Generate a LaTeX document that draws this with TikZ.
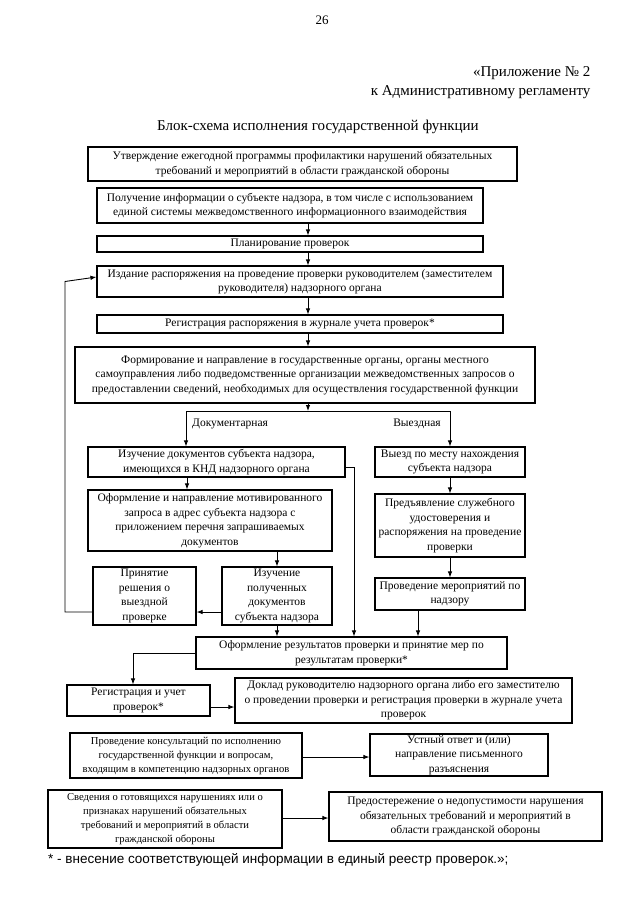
\documentclass[tikz,border=0pt]{standalone}
\usepackage{fontspec}
\setmainfont{Liberation Serif}
\newfontfamily\footfont{Liberation Sans}
\usetikzlibrary{arrows.meta}
\tikzset{
  box/.style={draw=black, line width=1.1pt, align=center, inner sep=1pt,
    font=\fontsize{11.5}{14.5}\selectfont},
  smallbox/.style={box, font=\fontsize{10.6}{14}\selectfont},
  conn/.style={line width=0.9pt, -{Latex[length=6pt,width=4.5pt]}},
  plain/.style={line width=0.9pt},
  lbl/.style={font=\fontsize{11.5}{14}\selectfont, inner sep=0pt},
}
\begin{document}
\begin{tikzpicture}[x=1pt,y=-1pt]
\useasboundingbox (0,0) rectangle (640,905);
% headers
\node[font=\fontsize{13}{15}\selectfont] (pg) at (322,20) {26};
\node[font=\fontsize{15}{18}\selectfont, anchor=east] (app1) at (594,73) {«Приложение №~2};
\node[font=\fontsize{15}{18}\selectfont, anchor=east] (app2) at (594,92) {к Административному регламенту};
\node[font=\fontsize{15}{18}\selectfont] (title) at (318,127) {Блок-схема исполнения государственной функции};

% boxes
\node[box, minimum width=429, minimum height=34] (b1) at (302.5,164) {Утверждение ежегодной программы профилактики нарушений обязательных\\требований и мероприятий в области гражданской обороны};
\node[box, minimum width=386, minimum height=35] (b2) at (290,205.5) {Получение информации о субъекте надзора, в том числе с использованием\\единой системы межведомственного информационного взаимодействия};
\node[box, minimum width=386, minimum height=16] (b3) at (290,244) {Планирование проверок};
\node[box, minimum width=406, minimum height=31] (b4) at (300,281.5) {Издание распоряжения на проведение проверки руководителем (заместителем\\руководителя) надзорного органа};
\node[box, minimum width=406, minimum height=18] (b5) at (300,324) {Регистрация распоряжения в журнале учета проверок*};
\node[box, minimum width=460, minimum height=56] (b6) at (305,375) {Формирование и направление в государственные органы, органы местного\\самоуправления либо подведомственные организации межведомственных запросов о\\предоставлении сведений, необходимых для осуществления государственной функции};

\node[box, minimum width=257, minimum height=30] (b7) at (216.5,462) {Изучение документов субъекта надзора,\\имеющихся в КНД надзорного органа};
\node[box, minimum width=150, minimum height=30] (b8) at (450,462) {Выезд по месту нахождения\\субъекта надзора};
\node[box, minimum width=244, minimum height=61] (b9) at (210,520.5) {Оформление и направление мотивированного\\запроса в адрес субъекта надзора с\\приложением перечня запрашиваемых\\документов};
\node[box, minimum width=150, minimum height=63] (b10) at (450,525.5) {Предъявление служебного\\удостоверения и\\распоряжения на проведение\\проверки};
\node[box, minimum width=103, minimum height=58] (b11) at (144.5,596) {Принятие\\решения о\\выездной\\проверке};
\node[box, minimum width=110, minimum height=58] (b12) at (277,596) {Изучение\\полученных\\документов\\субъекта надзора};
\node[box, minimum width=150, minimum height=32] (b13) at (450,594) {Проведение мероприятий по\\надзору};
\node[box, minimum width=311, minimum height=32] (b14) at (351.5,653) {Оформление результатов проверки и принятие мер по\\результатам проверки*};
\node[box, minimum width=143, minimum height=31] (b15) at (138.5,700.5) {Регистрация и учет\\проверок*};
\node[box, minimum width=337, minimum height=45] (b16) at (403.5,700.5) {Доклад руководителю надзорного органа либо его заместителю\\о проведении проверки и регистрация проверки в журнале учета\\проверок};
\node[smallbox, minimum width=232, minimum height=45] (b17) at (186,755.5) {Проведение консультаций по исполнению\\государственной функции и вопросам,\\входящим в компетенцию надзорных органов};
\node[box, minimum width=178, minimum height=42] (b18) at (459,755) {Устный ответ и (или)\\направление письменного\\разъяснения};
\node[smallbox, minimum width=234, minimum height=58] (b19) at (165,819) {Сведения о готовящихся нарушениях или о\\признаках нарушений обязательных\\требований и мероприятий в области\\гражданской обороны};
\node[box, minimum width=273, minimum height=49] (b20) at (465.5,816.5) {Предостережение о недопустимости нарушения\\обязательных требований и мероприятий в\\области гражданской обороны};

% footnote
\node[font=\footfont\fontsize{13.5}{16}\selectfont, anchor=west, inner sep=0pt] (fn) at (48,860) {* - внесение соответствующей информации в единый реестр проверок.»;};

% helper coordinates
\coordinate (mx) at (308,0);
\coordinate (J) at (308,411);
\coordinate (L) at (186,411);
\coordinate (R) at (450,411);
\coordinate (fbx) at (65,0);
\coordinate (vx) at (354,0);
\coordinate (lx) at (133,0);

% branch labels
\node[lbl, anchor=west] (ld) at (192,424) {Документарная};
\node[lbl] (lv) at (417,424) {Выездная};

% main chain
\draw[conn] (b2.south -| mx) -- (b3.north -| mx);
\draw[conn] (b3.south -| mx) -- (b4.north -| mx);
\draw[conn] (b4.south -| mx) -- (b5.north -| mx);
\draw[conn] (b5.south -| mx) -- (b6.north -| mx);
\draw[conn] (b6.south -| mx) -- (J);
\draw[plain] (L) -- (R);
\draw[conn] (L) -- (b7.north -| L);
\draw[conn] (R) -- (b8.north -| R);

% documentary branch
\draw[conn] (b7.south -| 187,0) -- (b9.north -| 187,0);
\draw[conn] (b9.south -| b12) -- (b12.north);
\draw[conn] (b12.west |- 0,612) -- (b11.east |- 0,612);
\draw[conn] (b11.west |- 0,612) -| (fbx |- b4.west) -- (b4.west |- 0,277);
\draw[conn] (b7.east |- 0,467) -| (b14.north -| vx);
\draw[conn] (b12.south) -- (b14.north -| b12);

% field branch
\draw[conn] (b8.south) -- (b10.north);
\draw[conn] (b10.south) -- (b13.north);
\draw[conn] (b13.south -| 418,0) -- (b14.north -| 418,0);

% results
\draw[conn] (b14.west) -| (b15.north -| lx);
\draw[conn] (b15.east |- 0,707) -- (b16.west |- 0,707);
\draw[conn] (b17.east |- 0,757) -- (b18.west |- 0,757);
\draw[conn] (b19.east |- 0,818) -- (b20.west |- 0,818);
\end{tikzpicture}
\end{document}
